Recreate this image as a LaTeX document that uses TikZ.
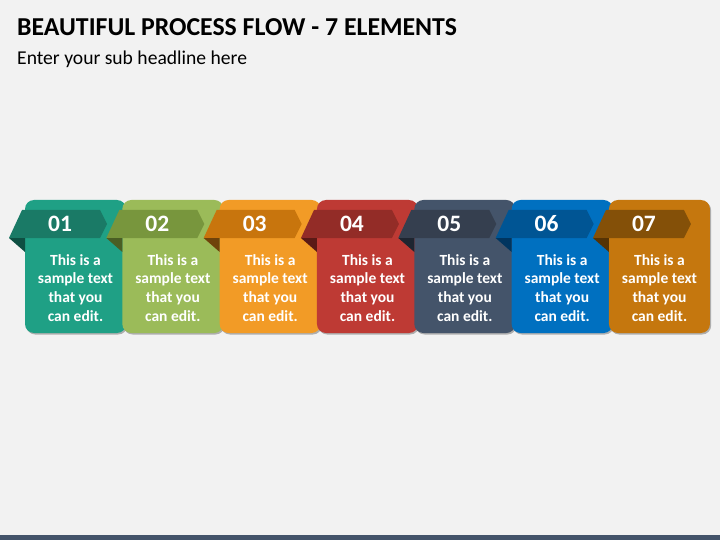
\documentclass[tikz,border=0pt]{standalone}
\usepackage{fontspec}
\setmainfont{Carlito}
\usetikzlibrary{shadows}
\definecolor{bg}{HTML}{F2F2F2}
\definecolor{barcol}{HTML}{44546A}
\definecolor{card1}{HTML}{1FA085}\definecolor{band1}{HTML}{1A7A66}\definecolor{fold1}{HTML}{0E4F42}
\definecolor{card2}{HTML}{9BBB59}\definecolor{band2}{HTML}{78963D}\definecolor{fold2}{HTML}{4A5E24}
\definecolor{card3}{HTML}{F29B26}\definecolor{band3}{HTML}{C8750D}\definecolor{fold3}{HTML}{6F420A}
\definecolor{card4}{HTML}{BE3A34}\definecolor{band4}{HTML}{932C27}\definecolor{fold4}{HTML}{5A1A16}
\definecolor{card5}{HTML}{44546A}\definecolor{band5}{HTML}{353F4F}\definecolor{fold5}{HTML}{1E2530}
\definecolor{card6}{HTML}{0070C0}\definecolor{band6}{HTML}{005594}\definecolor{fold6}{HTML}{00355F}
\definecolor{card7}{HTML}{C5770E}\definecolor{band7}{HTML}{845008}\definecolor{fold7}{HTML}{553305}
\tikzset{
  cardbox/.style={rounded corners=9pt, drop shadow={shadow xshift=1.2pt, shadow yshift=-1.5pt, opacity=0.28, fill=black}},
  numtext/.style={anchor=base, inner sep=0, text=white, font=\bfseries\fontsize{23.5}{27}\selectfont},
  bodytext/.style={anchor=base, inner sep=0, text=white, font=\bfseries\fontsize{15.5}{18}\selectfont},
}
\begin{document}
\begin{tikzpicture}[x=1pt,y=-1pt]
\useasboundingbox (0,0) rectangle (720,540);
\fill[bg] (0,0) rectangle (720,540);
\fill[barcol] (0,535) rectangle (720,540);
\node[anchor=base west, inner sep=0, font=\bfseries\fontsize{25.8}{30}\selectfont] (title) at (17,36) {BEAUTIFUL PROCESS FLOW - 7 ELEMENTS};
\node[anchor=base west, inner sep=0, font=\fontsize{19.6}{23}\selectfont] (sub) at (17,65) {Enter your sub headline here};
\foreach \i/\num in {1/01,2/02,3/03,4/04,5/05,6/06,7/07} {
  \pgfmathsetmacro\L{25+97.33*(\i-1)}
  \fill[card\i, cardbox] (\L,200) rectangle ++(101,133);
  \fill[band\i] (\L-3,210) -- (\L+75,210) -- (\L+82,224) -- (\L+75,238) -- (\L-16,238) -- cycle;
  \fill[fold\i] (\L-16,238) -- (\L,238) -- (\L,252) -- cycle;
  \node[numtext] (n\i) at (\L+35,231) {\num};
  \node[bodytext] (t\i-1) at (\L+50.5,265) {This is a};
  \node[bodytext] (t\i-2) at (\L+50.5,283.6) {sample text};
  \node[bodytext] (t\i-3) at (\L+50.5,302.4) {that you};
  \node[bodytext] (t\i-4) at (\L+50.5,321) {can edit.};
}
\end{tikzpicture}
\end{document}
